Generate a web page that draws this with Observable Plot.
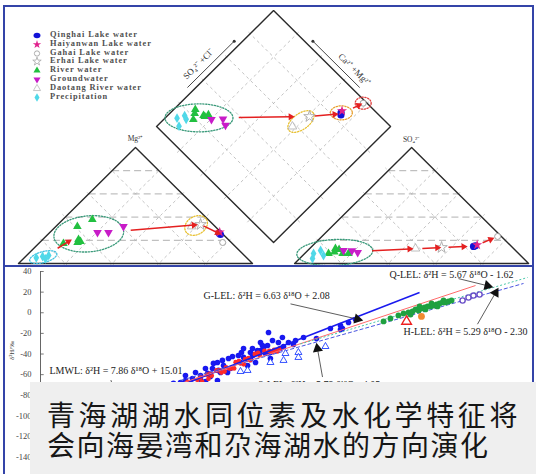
<!DOCTYPE html>
<html><head><meta charset="utf-8">
<script src="https://cdn.jsdelivr.net/npm/d3@7"></script>
<script src="https://cdn.jsdelivr.net/npm/@observablehq/plot@0.6"></script>
<style>
body{margin:0;background:#fff;}
#wrap{position:relative;width:536px;height:474px;overflow:hidden;background:#fff;}
#top{position:absolute;left:0;top:0;}
#bot{position:absolute;left:0;top:266px;}
.frame{position:absolute;border:2px solid #3444a8;box-sizing:border-box;}
#legend{position:absolute;left:31px;top:31px;font-family:"Liberation Serif",serif;font-size:8.4px;font-weight:bold;letter-spacing:0.9px;color:#505050;}
#legend .row{height:8.8px;line-height:8.8px;position:relative;white-space:nowrap;}
#legend svg{position:absolute;left:0;top:0;}
#legend span{position:absolute;left:19px;top:0;}
#note{position:absolute;left:30px;top:382px;width:506px;height:92px;background:#efefef;font-family:"Noto Sans CJK SC",sans-serif;color:#161616;font-size:28px;line-height:30px;padding:17px 0 0 17px;box-sizing:border-box;}
#note .l1{letter-spacing:3.6px;white-space:nowrap;}
#note .l2{letter-spacing:1.5px;white-space:nowrap;}
</style></head><body>
<div id="wrap">
  <div id="top"></div>
  <div id="bot"></div>
  <div class="frame" style="left:3px;top:5px;width:531px;height:262px"></div>
  <div class="frame" style="left:3px;top:265px;width:531px;height:215px"></div>
  <div id="legend"></div>
  <div id="note"><div class="l1">青海湖湖水同位素及水化学特征将</div><div class="l2">会向海晏湾和尕海湖水的方向演化</div></div>
</div>
<script>
// ================= Piper diagram data =================
const groupNames = ["Qinghai Lake water","Haiyanwan Lake water","Gahai Lake water","Erhai Lake water","River water","Groundwater","Daotang River water","Precipitation"];
const groupFill   = ["#1212d8","#e0208c","#ffffff","none","#22c040","#c81cc8","none","#50d8e8"];
const groupStroke = ["none","none","#9a9a9a","#a8a8a8","none","none","#b8b8b8","none"];
const groupSymbol = ["circle","star","circle","star","triangle","triangle","triangle","diamond"];
const groupRotate = [0,0,0,0,0,180,0,0];
const groupR      = [3.6,3.2,3,3.6,3.2,3.2,3.2,3];

const sampleGroup = ["Qinghai Lake water","Qinghai Lake water","Haiyanwan Lake water","Gahai Lake water","Erhai Lake water","Daotang River water",
  "River water","River water","River water","River water","River water","River water",
  "Groundwater","Groundwater","Groundwater",
  "Precipitation","Precipitation","Precipitation","Precipitation"];
const catMg  = [0.25,0.26,0.27,0.181,0.336,0.32, 0.319,0.379,0.207,0.19,0.181,0.172, 0.267,0.267,0.319, 0.05,0.06,0.07,0.04];
const catNaK = [0.738,0.728,0.725,0.782,0.61,0.58, 0.092,0.126,0.153,0.17,0.162,0.106, 0.204,0.251,0.289, 0.051,0.073,0.094,0.095];
const anSO4  = [0.147,0.152,0.16,0.233,0.138,0.129, 0.129,0.086,0.086,0.086,0.12,0.10, 0.112,0.095,0.11, 0.086,0.112,0.043,0.069];
const anCl   = [0.691,0.697,0.70,0.751,0.559,0.452, 0.11,0.102,0.162,0.187,0.13,0.12, 0.153,0.222,0.19, 0.038,0.055,0.055,0.089];

const green3 = ["River water","Groundwater","Precipitation"];
const arrowPanel = ["cation","cation","cation","anion","anion","anion","anion","diamond","diamond","diamond"];
const arrowFrom  = [["Precipitation"],["River water","Groundwater"],["Erhai Lake water"],green3,green3,["Erhai Lake water"],["Qinghai Lake water"],green3,["Erhai Lake water"],["Qinghai Lake water"]];
const arrowTo    = [["River water"],["Erhai Lake water"],["Qinghai Lake water"],["Erhai Lake water"],["Erhai Lake water"],["Qinghai Lake water"],["Gahai Lake water"],["Erhai Lake water"],["Qinghai Lake water"],["Gahai Lake water"]];
const arrowStart = [0.41,0.375,0.15,0.35,0.82,0.21,0.35,0.36,0.17,0.54];
const arrowEnd   = [0.72,0.94,0.88,0.70,0.96,0.67,0.70,0.83,0.80,0.80];

const ellPanel  = ["cation","cation","cation","anion","diamond","diamond","diamond","diamond"];
const ellGroups = [["Precipitation"],["River water","Groundwater"],["Erhai Lake water","Daotang River water"],green3,green3,["Erhai Lake water","Daotang River water"],["Qinghai Lake water","Haiyanwan Lake water"],["Gahai Lake water"]];
const ellRx     = [14,35,12,38,34,15,11,8];
const ellRy     = [5.5,18,9,13,14,8,7,6];
const ellAngle  = [-15,-5,-30,-3,0,-35,0,0];
const ellColor  = ["#40c0e0","#3a9a7a","#e8c030","#3a9a7a","#3a9a7a","#e8c030","#e8a030","#e04040"];

// ================= Isotope data (δ18O, δ2H, ‰) =================
const blueO = [-3.25,-3.63,-3.75,-4.38,-5.25,-6.06,-6.69,-7.0,-7.63,-8.25,-8.31,-8.75,-8.94,-9.38,-9.81,-10.13,-10.75,-11.06,-11.44,-10.81,-11.38,-11.75,-12.06,-12.5,-13.0,-13.44,-13.75,-9.56,-9.06,-8.13,-8.13,-7.81,-8.75,-2.81,-14.19,-11.44,-12.19,-9.81,-8.56,-7.31,-9.25,-3.75,
  -13.44,-12.81,-12.19,-11.69,-11.13,-10.5,-9.94,-9.25,-8.63,-8.0,-7.38,-13.13,-12.5,-11.88,-11.25,-10.63,-10.0,-9.38,-8.44,-7.5,-6.56];
const blueH = [-9.4,-15.2,-16.2,-15.2,-24.9,-24.0,-30.7,-28.8,-28.8,-19.1,-31.7,-36.6,-36.6,-38.5,-43.3,-41.4,-44.3,-51.1,-48.2,-57.9,-55.9,-54.0,-58.8,-60.8,-63.7,-65.6,-67.6,-51.1,-48.2,-44.3,-38.5,-36.6,-28.8,-6.5,-68.5,-65.6,-66.6,-34.7,-33.6,-32.7,-41.4,-12.3,
  -60.8,-57.9,-54.0,-49.1,-46.2,-42.4,-38.5,-34.6,-31.7,-26.9,-24.0,-68.5,-64.7,-61.7,-57.9,-54.0,-48.2,-45.3,-39.5,-34.6,-26.9];
const redO = [-14.5,-14.2,-13.9,-13.6,-13.3,-13.0,-12.7,-12.4,-12.1,-11.8,-11.5,-11.2,-10.9,-10.6,-10.3,-10.0,-9.7,-9.4,-9.1,-8.8,-8.5,-8.2,-13.8,-13.1,-12.5,-11.9,-11.3,-10.7,-10.1,-9.5,-8.9,-12.0,-11.0,-10.4,-9.8,-7.9,-7.6,-8.0,-7.7];
const redH = [-77,-78,-72,-73,-67,-70,-65,-67,-60,-61,-56,-58,-53,-54,-48,-49,-45,-46,-40,-41,-37,-37,-71,-69,-63,-59,-56,-54,-47,-44,-39,-64,-57,-54,-50,-36,-35,-38,-37.5];
const triO = [-9.56,-8.13,-7.31,-7.19,-6.38,-6.38,-4.69,-10.0];
const triH = [-55.9,-48.2,-46.2,-39.5,-38.5,-43.3,-32.7,-56.9];
const greenO = [-1.06,-0.63,-0.13,0.19,0.5,0.63,0.75,0.94,1.13,1.19,1.31,1.5,1.56,1.69,1.88,1.94,2.06,2.25,2.31,2.44,2.63,2.69,2.81,3.0,3.19];
const greenH = [-8.4,-5.5,-2.6,-0.7,0.3,-1.7,1.2,3.2,2.2,6.1,4.1,5.1,3.2,6.1,6.1,9.0,7.0,8.0,6.1,9.0,10.0,11.9,10.0,10.9,11.9];
const purpleO = [3.88,4.25,4.56,4.94];
const purpleH = [11.9,14.8,16.7,17.7];
const orangeO = [1.31], orangeH = [-3.6];
const redTriO = [0.38], redTriH = [-8.4];

const lineNames = ["G-LEL","Q-LEL","H-LEL","H-LEL2"];
const lineX1 = [-13.75,-13.75,-13.75,-6.25];
const lineY1 = [-70.5,-68.6,-65.6,-30.2];
const lineX2 = [1.19,4.69,7.69,7.94];
const lineY2 = [19.7,26.4,28.4,34.2];
const lineColor = ["#1a1aee","#ff6a6a","#4a55e0","#48c8a8"];
const lineDash  = [null,null,"4,2","2,2"];
const lineWidth = [1.5,1,1,1];

const noteText = ["Q-LEL: δ²H = 5.67 δ¹⁸O - 1.62","G-LEL: δ²H = 6.63 δ¹⁸O + 2.08","H-LEL: δ²H = 5.29 δ¹⁸O - 2.30","LMWL: δ²H = 7.86 δ¹⁸O + 15.01","2-LEL: δ²H = 5.79 δ¹⁸O - 4.05"];
const noteX = [-0.69,-12.31,0.19,-21.94,-8.875];
const noteY = [37.1,16.7,-18.1,-55.9,-69.5];
const pointerX1 = [3.625,-6.875,4.81,-4.875,-18.1];
const pointerY1 = [33.1,8.6,-11.1,-62.3,-65.3];
const pointerX2 = [5.44,-2.69,5.94,-5.19,-17.9];
const pointerY2 = [26.2,-6.2,19.4,-34.8,-75.2];
const pointerHead = [true,true,true,true,false];

const yTicks = [40,20,0,-20,-40,-60,-80,-100,-120,-140];

// ================= Piper geometry =================
const G = 0.18, SX = 234, SY = 116, X0 = 18, Y0 = 263;
const XMAX = 2.181, YMAX = 2.181;
const toPx = ([x,y]) => [X0 + SX*x, Y0 - SY*y];
const fromPx = ([px,py]) => [(px - X0)/SX, (Y0 - py)/SY];
const lerp = (a,b,t) => [a[0]+(b[0]-a[0])*t, a[1]+(b[1]-a[1])*t];
function extendPx(a, b, e) {
  const pa = toPx(a), pb = toPx(b);
  const L = Math.hypot(pb[0]-pa[0], pb[1]-pa[1]);
  return [fromPx(lerp(pa,pb,-e/L)), fromPx(lerp(pa,pb,1+e/L))];
}

function project(i, panel) {
  const mg = catMg[i], na = catNaK[i], so4 = anSO4[i], cl = anCl[i];
  if (panel === "cation") return [na + mg/2, mg];
  if (panel === "anion") return [1 + G + cl + so4/2, so4];
  const s = so4 + cl;
  return [(na + 1 + G + s)/2, 1 + G + s - na];
}
const panels = ["cation","anion","diamond"];
const pts = [];
sampleGroup.forEach((g,i) => panels.forEach(p => { const [x,y] = project(i,p); pts.push({group:g, panel:p, x, y}); }));
function centroid(panel, groups) {
  const sel = pts.filter(d => d.panel === panel && groups.includes(d.group));
  return [d3.mean(sel, d=>d.x), d3.mean(sel, d=>d.y)];
}

// grid lines
const fr = [0.2,0.4,0.6,0.8];
const gridH = [], gridD = [];
for (const off of [0, 1+G]) {
  const A=[off,0], B=[off+1,0], C=[off+0.5,1];
  for (const t of fr) {
    gridH.push([lerp(A,C,t), lerp(B,C,t)]);
    gridD.push(extendPx(lerp(A,B,t), lerp(B,C,1-t), 4));
    gridD.push(extendPx(lerp(A,B,t), lerp(A,C,t), 4));
  }
}
const D0=[1+G/2,G], DL=[0.5+G/2,1+G], DR=[1.5+G/2,1+G], DT=[1+G/2,2+G];
for (const t of fr) {
  gridD.push(extendPx(lerp(D0,DR,t), lerp(DL,DT,t), 4));
  gridD.push(extendPx(lerp(D0,DL,t), lerp(DR,DT,t), 4));
}
const outlines = [
  [[0,0],[1,0],[0.5,1],[0,0]],
  [[1+G,0],[2+G,0],[1.5+G,1],[1+G,0]],
  [D0,DR,DT,DL,D0]
];
const outlinePts = outlines.flatMap((o,k) => o.map(p => ({x:p[0], y:p[1], k})));

// ellipses
const ellPts = [];
ellPanel.forEach((p,k) => {
  const c = toPx(centroid(p, ellGroups[k]));
  const a = ellAngle[k]*Math.PI/180;
  for (let j=0;j<=72;j++) {
    const t = j/72*2*Math.PI;
    const ex = ellRx[k]*Math.cos(t), ey = ellRy[k]*Math.sin(t);
    const q = fromPx([c[0] + ex*Math.cos(a) - ey*Math.sin(a), c[1] + ex*Math.sin(a) + ey*Math.cos(a)]);
    ellPts.push({x:q[0], y:q[1], k, color: ellColor[k]});
  }
});

// arrows
const arrows = arrowPanel.map((p,k) => {
  const a = centroid(p, arrowFrom[k]), b = centroid(p, arrowTo[k]);
  const s = lerp(a,b,arrowStart[k]), e = lerp(a,b,arrowEnd[k]);
  const ang = Math.atan2((e[0]-s[0])*SX, (e[1]-s[1])*SY)*180/Math.PI;
  return {x1:s[0], y1:s[1], x2:e[0], y2:e[1], ang};
});

// diamond side labels
function offsetPx(p, nx, ny, d) { const q = toPx(p); return fromPx([q[0]+nx*d, q[1]+ny*d]); }
const r2 = Math.SQRT1_2;
const sideBars = [
  [offsetPx(lerp(DL,DT,0.3),-r2,-r2,6), offsetPx(lerp(DL,DT,0.7),-r2,-r2,6)],
  [offsetPx(lerp(DT,DR,0.3), r2,-r2,6), offsetPx(lerp(DT,DR,0.7), r2,-r2,6)]
];
const sideDots = [sideBars[0][1], sideBars[1][0]];
const sideLabels = [
  {p: offsetPx(lerp(DL,DT,0.45),-r2,-r2,15), text:"SO₄²⁻ +Cl⁻", rot:-45},
  {p: offsetPx(lerp(DT,DR,0.6), r2,-r2,15), text:"Ca²⁺ +Mg²⁺", rot:45}
];

const dotMarks = groupNames.map((g,k) => Plot.dot(pts.filter(d => d.group === g), {
  x:"x", y:"y", symbol: groupSymbol[k], r: groupR[k], fill: groupFill[k], stroke: groupStroke[k],
  strokeWidth: 0.9, rotate: groupRotate[k]
}));

const piper = Plot.plot({
  width: 536, height: 266,
  marginLeft: X0, marginRight: 536 - (X0 + SX*XMAX), marginTop: Y0 - SY*YMAX, marginBottom: 266 - Y0,
  x: {domain:[0,XMAX], axis:null},
  y: {domain:[0,YMAX], axis:null},
  style: {background:"transparent", fontFamily:"Liberation Serif, serif"},
  marks: [
    Plot.link(gridH, {x1:d=>d[0][0], y1:d=>d[0][1], x2:d=>d[1][0], y2:d=>d[1][1], stroke:"#a8a8a8", strokeWidth:0.9, strokeDasharray:"7,4"}),
    Plot.link(gridD, {x1:d=>d[0][0], y1:d=>d[0][1], x2:d=>d[1][0], y2:d=>d[1][1], stroke:"#b4b4b4", strokeWidth:0.8, strokeDasharray:"3,3"}),
    Plot.line(outlinePts, {x:"x", y:"y", z:"k", stroke:"#2a2a2a", strokeWidth:1.4}),
    Plot.link(sideBars, {x1:d=>d[0][0], y1:d=>d[0][1], x2:d=>d[1][0], y2:d=>d[1][1], stroke:"#333", strokeWidth:0.9}),
    Plot.dot(sideDots, {x:d=>d[0], y:d=>d[1], r:1.5, fill:"#333"}),
    ...sideLabels.map(s => Plot.text([s], {x:d=>d.p[0], y:d=>d.p[1], text:"text", rotate:s.rot, fontSize:9, fill:"#333"})),
    Plot.text([[0.5,1]], {x:d=>d[0], y:d=>d[1], dy:-9, text:()=>"Mg²⁺", fontSize:7.5, fill:"#333"}),
    Plot.text([[1.5+G,1]], {x:d=>d[0], y:d=>d[1], dy:-8, text:()=>"SO₄²⁻", fontSize:7.5, fill:"#333"}),
    Plot.line(ellPts, {x:"x", y:"y", z:"k", stroke:"color", strokeWidth:1.3, strokeDasharray:"1.3,1.6"}),
    ...dotMarks,
    Plot.link(arrows, {x1:"x1", y1:"y1", x2:"x2", y2:"y2", stroke:"#e42020", strokeWidth:1.5}),
    Plot.dot(arrows, {x:"x2", y:"y2", symbol:"triangle", r:2.6, fill:"#e42020", rotate:"ang"})
  ]
});
document.getElementById("top").appendChild(piper);

// legend
const leg = document.getElementById("legend");
groupNames.forEach((g,k) => {
  const row = document.createElement("div"); row.className = "row";
  const symMap = {circle:d3.symbolCircle, star:d3.symbolStar, triangle:d3.symbolTriangle, diamond:d3.symbolDiamond};
  const path = d3.symbol(symMap[groupSymbol[k]], 22)();
  row.innerHTML = `<svg width="12" height="9"><path d="${path}" transform="translate(6,4.5) rotate(${groupRotate[k]})${k===0?' scale(1.3,1)':''}" fill="${groupFill[k]}" stroke="${groupStroke[k]}" stroke-width="0.8"/></svg><span>${g}</span>`;
  leg.appendChild(row);
});

// ================= isotope plot =================
const XL = -22.5;
const blue = blueO.map((o,i)=>({o, h:blueH[i]}));
const red = redO.map((o,i)=>({o, h:redH[i]}));
const tri = triO.map((o,i)=>({o, h:triH[i]}));
const grn = greenO.map((o,i)=>({o, h:greenH[i]}));
const pur = purpleO.map((o,i)=>({o, h:purpleH[i]}));
const lines = lineNames.map((n,i)=>({n, x1:lineX1[i], y1:lineY1[i], x2:lineX2[i], y2:lineY2[i], c:lineColor[i], d:lineDash[i], w:lineWidth[i]}));
const notes = noteText.map((t,i)=>({t, x:noteX[i], y:noteY[i]}));
const pointers = pointerX1.map((x1,i)=>({x1, y1:pointerY1[i], x2:pointerX2[i], y2:pointerY2[i], head:pointerHead[i],
  ang: Math.atan2((pointerX2[i]-x1)*16, (pointerY2[i]-pointerY1[i])*1.032)*180/Math.PI}));

const iso = Plot.plot({
  width: 536, height: 208, marginLeft: 40, marginRight: 6, marginTop: 5, marginBottom: 0,
  x: {domain:[XL, 8.125], axis:null},
  y: {domain:[-156.8, 40], axis:null},
  style: {background:"transparent", fontFamily:"Liberation Serif, serif"},
  marks: [
    Plot.ruleX([XL], {y1:-156.8, y2:40, stroke:"#555", strokeWidth:0.9}),
    Plot.link(yTicks, {x1:XL, x2:XL+0.2, y1:d=>d, y2:d=>d, stroke:"#555", strokeWidth:0.8}),
    Plot.axisY(yTicks, {anchor:"left", tickSize:0, tickPadding:9, fontSize:8.5, fill:"#444", tickFormat:d=>String(d)}),
    Plot.text(["δ²H/‰"], {x:XL, y:-36.5, dx:-29, rotate:-90, fontSize:7, fill:"#444"}),
    Plot.dot(blue, {x:"o", y:"h", r:2.8, fill:"#1818f0"}),
    Plot.dot(red, {x:"o", y:"h", r:2.4, fill:"#ff2a2a"}),
    ...lines.map(l => Plot.link([l], {x1:"x1", y1:"y1", x2:"x2", y2:"y2", stroke:l.c, strokeWidth:l.w, strokeDasharray:l.d})),
    Plot.dot(tri, {x:"o", y:"h", symbol:"triangle", r:2.6, fill:"white", stroke:"#2040ff", strokeWidth:0.9}),
    Plot.dot(grn, {x:"o", y:"h", r:2.9, fill:"#1fa040"}),
    Plot.dot(pur, {x:"o", y:"h", r:2.6, fill:"white", stroke:"#6a4fc8", strokeWidth:1.4}),
    Plot.dot(orangeO.map((o,i)=>({o,h:orangeH[i]})), {x:"o", y:"h", r:3.4, fill:"#f08a30"}),
    Plot.dot(redTriO.map((o,i)=>({o,h:redTriH[i]})), {x:"o", y:"h", symbol:"triangle", r:3.6, fill:"white", stroke:"#ee2020", strokeWidth:1.4}),
    Plot.link(pointers, {x1:"x1", y1:"y1", x2:"x2", y2:"y2", stroke:"#333", strokeWidth:0.8}),
    Plot.dot(pointers.filter(d=>d.head), {x:"x2", y:"y2", symbol:"triangle", r:3.8, fill:"#111", rotate:"ang"}),
    Plot.text(notes, {x:"x", y:"y", text:"t", textAnchor:"start", fontSize:10, fill:"#222"})
  ]
});
document.getElementById("bot").appendChild(iso);
</script>
</body></html>
